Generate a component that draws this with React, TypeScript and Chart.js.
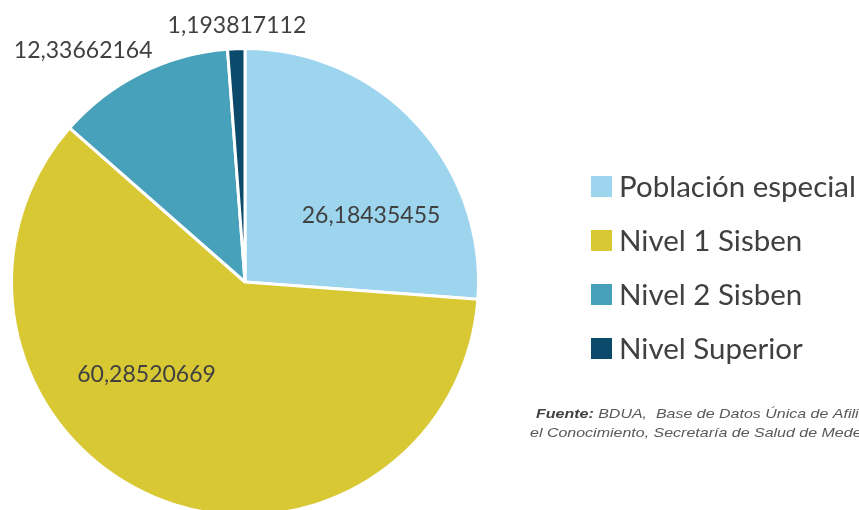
import React, { useEffect, useRef } from "react";
import { Chart, registerables } from "chart.js";

Chart.register(...registerables);

const categories = ["Población especial", "Nivel 1 Sisben", "Nivel 2 Sisben", "Nivel Superior"];
const values = [26.18435455, 60.28520669, 12.33662164, 1.193817112];
const valueLabels = ["26,18435455", "60,28520669", "12,33662164", "1,193817112"];
const colors = ["#9DD5EE", "#D8C833", "#47A1BA", "#0B4A6A"];
// label placement within each slice: fraction of the slice angle, fraction of radius
const labelAngleFrac = [0.66, 0.61, 0.31, 0.58];
const labelRadiusFrac = [0.61, 0.58, 1.21, 1.1];
const footerLine1Bold = "Fuente:";
const footerLine1 = " BDUA,  Base de Datos Única de Afiliados";
const footerLine2 = "el Conocimiento, Secretaría de Salud de Medellín";

const labelsPlugin = {
  id: "customLabels",
  afterDraw(chart: any) {
    const ctx = chart.ctx;
    const meta = chart.getDatasetMeta(0);
    ctx.save();
    ctx.fillStyle = "#404040";
    ctx.font = "23px Lato";
    ctx.textAlign = "center";
    ctx.textBaseline = "middle";
    meta.data.forEach((arc: any, i: number) => {
      const { x, y, startAngle, endAngle, outerRadius } = arc.getProps(
        ["x", "y", "startAngle", "endAngle", "outerRadius"],
        true
      );
      const a = startAngle + (endAngle - startAngle) * labelAngleFrac[i];
      const r = outerRadius * labelRadiusFrac[i];
      ctx.fillText(valueLabels[i], x + Math.cos(a) * r, y + Math.sin(a) * r);
    });

    // legend
    const sq = 21;
    const lx = 591;
    const y0 = 186.5;
    const step = 54;
    ctx.textAlign = "left";
    ctx.font = "29.5px Lato";
    categories.forEach((c, i) => {
      const cy = y0 + i * step;
      ctx.fillStyle = colors[i];
      ctx.fillRect(lx, cy - sq / 2, sq, sq);
      ctx.fillStyle = "#404040";
      ctx.fillText(c, lx + 28, cy + 1);
    });

    // footer (horizontally stretched text)
    ctx.textBaseline = "alphabetic";
    const sx = 1.23;
    ctx.save();
    ctx.translate(536, 418);
    ctx.scale(sx, 1);
    ctx.font = "italic bold 13px 'Liberation Sans'";
    ctx.fillStyle = "#404040";
    ctx.fillText(footerLine1Bold, 0, 0);
    const w = ctx.measureText(footerLine1Bold).width;
    ctx.font = "italic 13px 'Liberation Sans'";
    ctx.fillStyle = "#595959";
    ctx.fillText(footerLine1, w, 0);
    ctx.restore();
    ctx.save();
    ctx.translate(530, 437);
    ctx.scale(sx, 1);
    ctx.font = "italic 13px 'Liberation Sans'";
    ctx.fillStyle = "#595959";
    ctx.fillText(footerLine2, 0, 0);
    ctx.restore();
    ctx.restore();
  },
};

export default function App() {
  const ref = useRef<HTMLCanvasElement | null>(null);
  useEffect(() => {
    if (!ref.current) return;
    const chart = new Chart(ref.current, {
      type: "pie",
      data: {
        labels: categories,
        datasets: [
          {
            data: values,
            backgroundColor: colors,
            borderColor: "#FFFFFF",
            borderWidth: 3,
          },
        ],
      },
      options: {
        animation: false,
        responsive: false,
        devicePixelRatio: 1,
        layout: { padding: { left: 10, top: 47, right: 379, bottom: 13 } },
        plugins: {
          legend: { display: false },
          tooltip: { enabled: false },
          title: { display: false },
        },
      },
      plugins: [labelsPlugin],
    });
    return () => chart.destroy();
  }, []);
  return (
    <div
      style={{
        position: "absolute",
        left: 0,
        top: 0,
        width: 859,
        height: 510,
        overflow: "hidden",
        background: "#FFFFFF",
      }}
    >
      <canvas ref={ref} width={859} height={530} style={{ display: "block" }} />
    </div>
  );
}
